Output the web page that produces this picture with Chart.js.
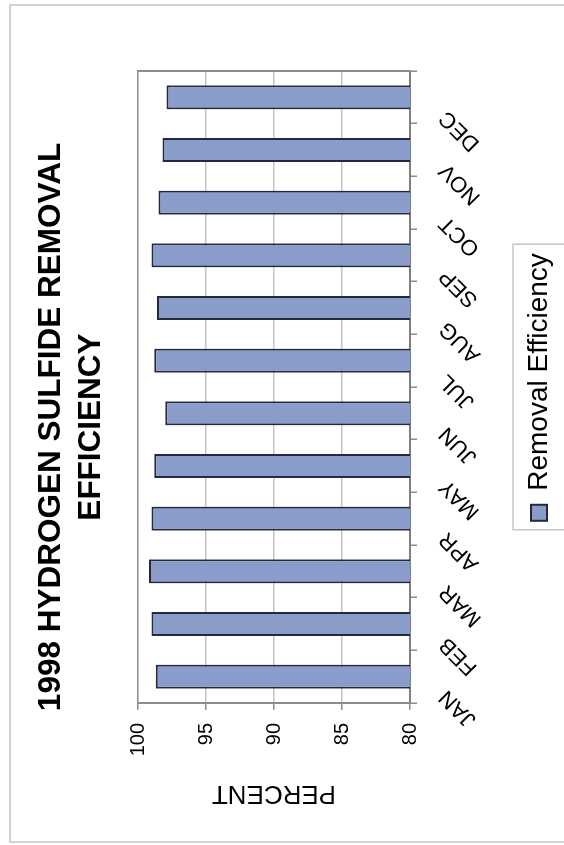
<!DOCTYPE html>
<html>
<head>
<meta charset="utf-8">
<title>1998 Hydrogen Sulfide Removal Efficiency</title>
<script src="https://cdn.jsdelivr.net/npm/chart.js@4/dist/chart.umd.min.js"></script>
<style>
  html, body { margin: 0; padding: 0; background: #fff; width: 564px; height: 845px; overflow: hidden; }
  /* the chart is laid out landscape and turned a quarter turn counter-clockwise */
  #turn { position: absolute; left: 0; top: 0; width: 845px; height: 600px;
          transform-origin: 0 0; transform: translate(0px, 845px) rotate(-90deg); }
  canvas { display: block; }
</style>
</head>
<body>
<div id="turn"><canvas id="chart" width="845" height="600"></canvas></div>
<script>
// ---- data ----
const months = ['JAN', 'FEB', 'MAR', 'APR', 'MAY', 'JUN', 'JUL', 'AUG', 'SEP', 'OCT', 'NOV', 'DEC'];
const removalEfficiency = [98.7, 99.0, 99.2, 99.0, 98.8, 98.0, 98.8, 98.6, 99.0, 98.5, 98.2, 97.9];
const percentTicks = [80, 85, 90, 95, 100];
const titleLines = ['1998 HYDROGEN SULFIDE REMOVAL', 'EFFICIENCY'];
const seriesName = 'Removal Efficiency';
const axisTitle = 'PERCENT';

const FONT = "'Liberation Sans', Arial, Helvetica, sans-serif";
const BAR_FILL = '#8a9dca';
const BAR_EDGE = '#23283f';

// white page with a thin grey frame, and a box around the legend
const framePlugin = {
  id: 'frame',
  beforeDraw(chart) {
    const ctx = chart.ctx;
    ctx.save();
    ctx.fillStyle = '#fff';
    ctx.fillRect(0, 0, chart.width, chart.height);
    ctx.strokeStyle = '#d2d2d2';
    ctx.lineWidth = 2;
    ctx.strokeRect(3, 10, 837, 586);
    ctx.restore();
  },
  afterDraw(chart) {
    const lg = chart.legend;
    if (!lg || !lg.legendHitBoxes || !lg.legendHitBoxes.length) return;
    const hb = lg.legendHitBoxes[0];
    const ctx = chart.ctx;
    ctx.save();
    ctx.strokeStyle = '#c8c8c8';
    ctx.lineWidth = 1.5;
    ctx.strokeRect(hb.left - 9, hb.top - 12, hb.width + 18, 90);
    ctx.restore();
  }
};

new Chart(document.getElementById('chart'), {
  type: 'bar',
  data: {
    labels: months,
    datasets: [{
      label: seriesName,
      data: removalEfficiency,
      backgroundColor: BAR_FILL,
      borderColor: BAR_EDGE,
      borderWidth: 2,
      barPercentage: 0.456,
      categoryPercentage: 1.0
    }]
  },
  options: {
    responsive: false,
    animation: false,
    devicePixelRatio: 1,
    layout: { padding: { left: 2, right: 11, top: 0, bottom: 37 } },
    plugins: {
      title: {
        display: true,
        text: titleLines,
        color: '#000',
        font: { family: FONT, size: 31.5, weight: 'bold', lineHeight: 1.27 },
        padding: { top: 31, bottom: 27 }
      },
      legend: {
        display: true,
        position: 'bottom',
        fullSize: false,
        labels: {
          color: '#000',
          font: { family: FONT, size: 28 },
          boxWidth: 16,
          boxHeight: 16,
          padding: 10
        }
      },
      tooltip: { enabled: false }
    },
    scales: {
      x: {
        offset: true,
        grid: {
          display: true,
          offset: true,
          drawOnChartArea: false,
          drawTicks: true,
          tickLength: 7,
          color: '#8c8c8c',
          lineWidth: 1.5
        },
        border: { display: true, color: '#7f7f7f', width: 2 },
        ticks: {
          color: '#000',
          font: { family: FONT, size: 22 },
          minRotation: 45,
          maxRotation: 45,
          autoSkip: false,
          padding: 17,
          labelOffset: -17
        },
        afterFit(scale) { scale.height = 105; }
      },
      y: {
        min: percentTicks[0],
        max: percentTicks[percentTicks.length - 1],
        afterBuildTicks(scale) { scale.ticks = percentTicks.map(v => ({ value: v })); },
        grid: {
          color: c => (c.tick && c.tick.value === 100) ? '#8c8c8c' : '#c4c4c4',
          lineWidth: 1.5,
          drawTicks: true,
          tickLength: 7,
          tickColor: '#8c8c8c'
        },
        border: { display: true, color: '#8c8c8c', width: 2 },
        ticks: {
          color: '#000',
          font: { family: FONT, size: 20 },
          padding: 13
        },
        title: {
          display: true,
          text: axisTitle,
          color: '#000',
          font: { family: FONT, size: 26 },
          padding: { top: 34, bottom: 0 }
        },
        afterFit(scale) { scale.width = 140; }
      },
      // closes the plot frame on the far side and keeps the right margin
      frameRight: {
        type: 'linear',
        position: 'right',
        grid: { display: false },
        ticks: { display: false },
        border: { display: true, color: '#8c8c8c', width: 2 },
        afterFit(scale) { scale.width = 60; }
      }
    }
  },
  plugins: [framePlugin]
});
</script>
</body>
</html>
